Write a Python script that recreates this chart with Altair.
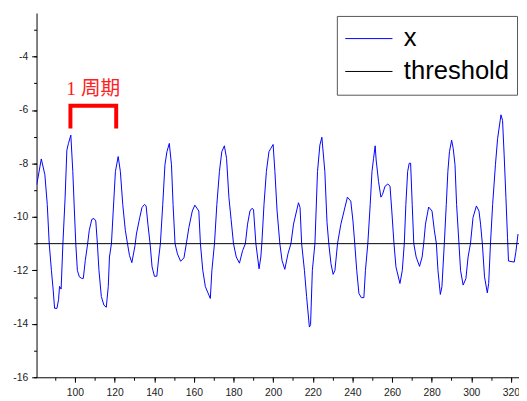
import altair as alt
import pandas as pd

# ---- data ----
X_VALUES = [
    80.7, 83.0, 84.8, 86.0, 87.0, 88.1, 89.0, 89.7, 90.9, 91.7, 92.2, 93.0, 93.9, 95.0, 95.9, 96.7,
    97.9, 98.9, 99.7, 100.4, 101.2, 102.2, 103.4, 104.2, 105.2, 106.4, 107.2, 108.5, 109.6, 110.5,
    111.3, 112.1, 113.3, 114.6, 115.8, 116.8, 117.4, 118.4, 119.3, 120.4, 121.8, 122.9, 124.1, 125.4,
    126.5, 127.5, 128.7, 130.3, 131.0, 132.7, 133.8, 135.1, 135.9, 136.8, 137.9, 138.9, 140.1, 141.3,
    142.3, 143.1, 144.3, 145.4, 146.4, 147.6, 148.7, 149.5, 150.5, 151.7, 153.3, 155.0, 156.2, 157.5,
    159.2, 160.5, 162.5, 163.3, 164.5, 165.8, 168.3, 169.1, 170.4, 171.6, 172.9, 174.1, 175.4, 176.5,
    177.7, 178.8, 180.0, 181.4, 183.0, 184.6, 186.0, 187.1, 188.3, 189.3, 190.1, 191.3, 192.9, 193.8,
    194.3, 195.4, 196.6, 197.9, 198.8, 200.0, 200.9, 202.0, 203.4, 204.5, 205.9, 207.5, 209.0, 210.3,
    212.8, 213.6, 214.4, 215.8, 216.9, 218.3, 218.9, 219.8, 221.1, 222.4, 223.6, 224.6, 226.1, 227.2,
    228.1, 229.2, 230.3, 231.2, 232.5, 234.2, 235.8, 237.5, 239.2, 240.3, 241.2, 242.2, 243.3, 244.5,
    245.8, 246.6, 247.8, 249.0, 249.9, 250.7, 251.5, 252.0, 253.2, 254.4, 255.2, 256.5, 257.9, 259.0,
    259.9, 261.0, 262.0, 264.0, 265.2, 266.2, 267.0, 267.9, 268.7, 269.4, 270.2, 271.0, 272.2, 273.9,
    275.2, 276.0, 276.9, 278.5, 280.2, 281.4, 282.4, 283.2, 284.4, 285.2, 286.4, 287.4, 288.2, 289.0,
    290.1, 290.9, 291.8, 292.6, 293.8, 294.6, 295.9, 297.3, 298.4, 299.6, 300.9, 302.6, 303.9, 304.7,
    305.6, 306.7, 308.1, 308.8, 309.7, 310.8, 312.2, 313.3, 315.0, 315.8, 316.6, 317.5, 318.3, 318.8,
    321.7, 322.5, 323.6,
]
Y_VALUES = [
    -8.79, -7.83, -8.42, -9.53, -11.0, -12.0, -12.74, -13.42, -13.42, -13.1, -12.6, -12.7, -11.0, -9.3, -7.5, -7.25,
    -6.94, -8.3, -9.78, -11.0, -12.0, -12.24, -12.3, -12.3, -11.63, -11.0, -10.5, -10.09, -10.06, -10.15,
    -11.0, -12.0, -12.98, -13.3, -13.38, -12.6, -11.5, -11.0, -9.78, -8.3, -7.74, -8.3, -9.53, -10.5,
    -11.0, -11.44, -11.71, -11.07, -10.64, -10.02, -9.65, -9.53, -9.59, -10.27, -11.0, -11.87, -12.22, -12.22,
    -11.5, -11.0, -9.53, -8.05, -7.56, -7.25, -8.05, -9.53, -11.0, -11.38, -11.66, -11.53, -11.0, -10.39,
    -9.78, -9.56, -9.78, -11.0, -12.0, -12.61, -13.05, -12.0, -11.0, -9.53, -8.3, -7.56, -7.34, -7.81,
    -9.28, -10.1, -11.0, -11.5, -11.73, -11.26, -11.0, -10.27, -9.78, -9.68, -9.72, -11.0, -11.94, -11.5,
    -11.0, -9.53, -8.3, -7.56, -7.44, -7.29, -8.3, -9.78, -11.0, -11.63, -11.96, -11.38, -11.0, -10.27,
    -9.47, -9.65, -11.0, -12.0, -12.98, -14.12, -14.03, -12.0, -11.0, -8.3, -7.31, -7.02, -8.3, -10.2,
    -11.0, -11.75, -12.15, -12.0, -11.0, -10.27, -9.78, -9.26, -9.41, -10.15, -11.0, -12.0, -12.86, -13.02,
    -13.02, -12.0, -11.0, -9.53, -8.3, -7.81, -7.34, -7.87, -8.67, -9.26, -9.16, -8.85, -8.77, -8.85,
    -9.78, -11.0, -11.87, -12.49, -12.0, -11.0, -9.53, -8.3, -7.99, -7.99, -9.53, -11.0, -11.5, -11.85,
    -11.5, -11.0, -10.27, -9.63, -9.78, -10.52, -11.0, -12.0, -12.9, -12.61, -11.0, -9.53, -8.3, -7.56,
    -7.13, -7.44, -8.05, -9.53, -11.0, -12.0, -12.55, -12.31, -11.5, -11.0, -10.02, -9.59, -9.78, -10.27,
    -11.0, -12.24, -12.84, -12.49, -11.0, -9.53, -8.05, -7.07, -6.18, -6.39, -7.68, -9.28, -10.76, -11.65,
    -11.69, -11.32, -10.64,
]
THRESHOLD = -11
SERIES = ["x", "threshold"]
COLORS = ["#0000ff", "#000000"]

X_MAJOR = list(range(100, 321, 20))
X_MINOR = list(range(90, 321, 10))
Y_MAJOR = list(range(-16, -3, 2))
Y_MINOR = list(range(-16, -2, 1))
X_DOMAIN = [80.6, 324.1]
Y_DOMAIN = [-16, -2.37]

ANN_TEXT = ["1 周期"]
ANN_X = [109.2]
ANN_Y = [-5.2]
BRACKET_X = [97.7, 97.7, 120.8, 120.8]
BRACKET_Y = [-6.69, -5.84, -5.84, -6.69]

# ---- tables ----
line_df = pd.DataFrame({"x": X_VALUES, "y": Y_VALUES, "series": SERIES[0]})
thr_df = pd.DataFrame({"y": [THRESHOLD], "series": [SERIES[1]]})
ann_df = pd.DataFrame({"x": ANN_X, "y": ANN_Y, "t": ANN_TEXT})
br_df = pd.DataFrame({"x": BRACKET_X, "y": BRACKET_Y, "o": list(range(len(BRACKET_X)))})

xscale = alt.Scale(domain=X_DOMAIN, nice=False, zero=False)
yscale = alt.Scale(domain=Y_DOMAIN, nice=False, zero=False)
color = alt.Color(
    "series:N",
    scale=alt.Scale(domain=SERIES, range=COLORS),
    legend=alt.Legend(title=None, orient="none", legendX=305, legendY=3),
)

lbl = "'' + datum.value"

line = alt.Chart(line_df).mark_line(strokeWidth=1, clip=True).encode(
    x=alt.X("x:Q", scale=xscale,
            axis=alt.Axis(orient="bottom", values=X_MAJOR, tickSize=5, labelPadding=6,
                          title=None, labelExpr=lbl)),
    y=alt.Y("y:Q", scale=yscale,
            axis=alt.Axis(orient="left", values=Y_MAJOR, tickSize=5, labelPadding=4,
                          title=None, labelExpr=lbl)),
    color=color,
)

thr = alt.Chart(thr_df).mark_rule(strokeWidth=1).encode(
    y=alt.Y("y:Q", scale=yscale,
            axis=alt.Axis(orient="left", values=Y_MINOR, tickSize=3, labels=False,
                          domain=False, title=None)),
    x=alt.value(0),
    x2=alt.value(490),
    color=color,
)

minor_x = alt.Chart(thr_df).mark_rule(opacity=0).encode(
    x=alt.X("xv:Q", scale=xscale,
            axis=alt.Axis(orient="bottom", values=X_MINOR, tickSize=3, labels=False,
                          domain=False, title=None)),
).transform_calculate(xv="100")

bracket = alt.Chart(br_df).mark_line(
    color="#ff0000", strokeWidth=4, strokeJoin="miter", strokeCap="butt"
).encode(
    x=alt.X("x:Q", scale=xscale, axis=None),
    y=alt.Y("y:Q", scale=yscale, axis=None),
    order="o:Q",
)

ann = alt.Chart(ann_df).mark_text(
    color="#ff2020", fontSize=20, font="Liberation Serif, Noto Sans CJK SC",
    align="center", baseline="middle"
).encode(
    x=alt.X("x:Q", scale=xscale, axis=None),
    y=alt.Y("y:Q", scale=yscale, axis=None),
    text="t:N",
)

chart = alt.layer(line, thr, minor_x, bracket, ann).resolve_axis(
    x="independent", y="independent"
).properties(
    width=490, height=370,
    autosize=alt.AutoSizeParams(type="none"),
    padding={"left": 29, "top": 2, "right": 0, "bottom": 20},
    background="white",
).configure_view(stroke=None).configure_axis(
    grid=False,
    labelFont="Liberation Sans",
    labelFontSize=10.5,
    labelColor="#222222",
    domainColor="#000000",
    tickColor="#000000",
    domainWidth=1,
    tickWidth=1,
).configure_legend(
    padding=8,
    strokeColor="#555555",
    strokeWidth=1,
    fillColor="white",
    symbolType="stroke",
    symbolSize=2304,
    symbolStrokeWidth=1,
    labelFont="Liberation Sans",
    labelFontSize=26,
    labelColor="#000000",
    labelOffset=11,
    clipHeight=30,
    rowPadding=3.4,
)

chart.save("out.html", embed_options={"renderer": "svg", "actions": False})
